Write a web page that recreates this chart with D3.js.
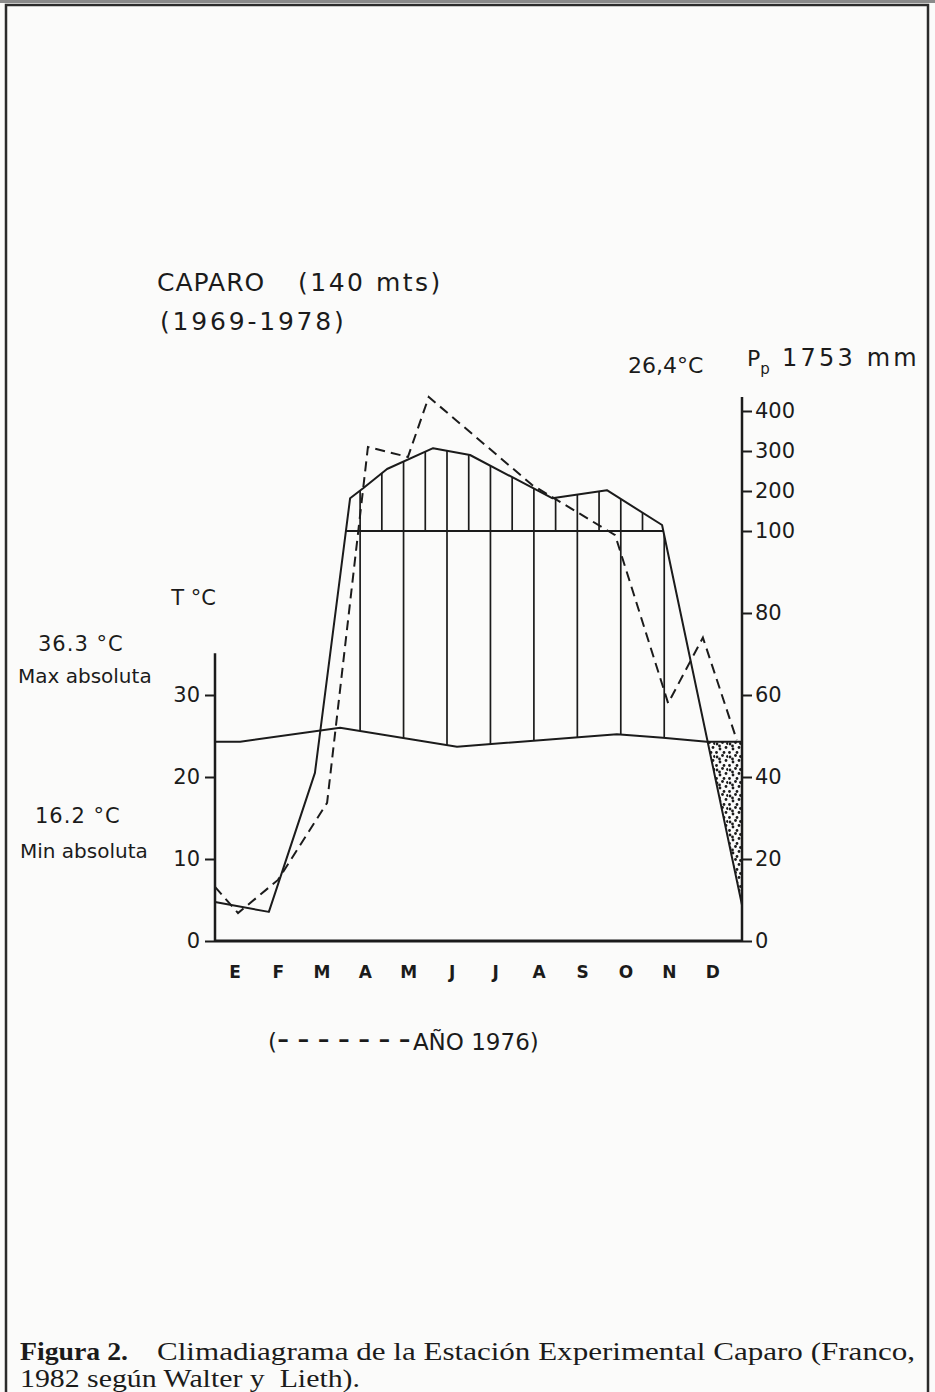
<!DOCTYPE html>
<html>
<head>
<meta charset="utf-8">
<script src="https://cdn.jsdelivr.net/npm/d3@7"></script>
<style>
  body { margin: 0; background: #fbfbfa; }
  svg text { fill: #1b1b1b; }
  .lbl { font-family: "DejaVu Sans", sans-serif; }
  .cap { font-family: "Liberation Serif", serif; }
</style>
</head>
<body>
<svg id="chart"></svg>
<script>
var svgWidth = 935;
var svgHeight = 1392;

// Month initials (Spanish)
var months = ["E", "F", "M", "A", "M", "J", "J", "A", "S", "O", "N", "D"];

// Mean temperature 1969-1978: position on the month axis (0 = E) and value in °C
var tempMonth = [-0.46, 0.12, 2.42, 5.11, 8.79, 9.85, 10.86, 11.67];
var tempMean = [24.3, 24.3, 26.0, 23.7, 25.2, 24.8, 24.3, 24.3];

// Mean precipitation 1969-1978 (mm)
var precMonth = [-0.46, 0.78, 1.84, 2.65, 2.95, 3.50, 4.56, 5.41, 7.30, 8.56, 9.83, 11.67];
var precMean = [9.5, 7.1, 41, 182, 207, 255, 307, 290, 182, 202, 115, 8.8];

// Precipitation for the year 1976 (mm), dashed
var prec76Month = [-0.46, 0.07, 0.99, 2.12, 3.06, 3.98, 4.46, 6.84, 8.75, 9.97, 10.77, 11.55];
var prec76 = [13.2, 6.8, 14.9, 33.7, 310, 285, 435, 215, 99, 58, 74, 49];

// Tick labels
var tempTicks = [0, 10, 20, 30];
var precTicks = [0, 20, 40, 60, 80, 100, 200, 300, 400];

var svg = d3.select("#chart")
  .attr("width", svgWidth)
  .attr("height", svgHeight);

// scan edge and frame of the page
svg.append("rect")
  .attr("x", 0).attr("y", 0)
  .attr("width", svgWidth).attr("height", 3)
  .attr("fill", "#8a8a8a");
svg.append("rect")
  .attr("x", 6).attr("y", 5)
  .attr("width", 922).attr("height", 1420)
  .attr("fill", "none")
  .attr("stroke", "#2b2b2b")
  .attr("stroke-width", 2.5);

// Scales
// ==============================
var x = d3.scaleLinear().domain([-0.46, 11.67]).range([215, 742]);
var yT = d3.scaleLinear().domain([0, 40]).range([941, 613]);
// Walter & Lieth: above 100 mm the scale is reduced to 1/10
var yP = d3.scaleLinear().domain([0, 100, 400]).range([941, 531, 411]);

var tempData = tempMonth.map((m, i) => ({m: m, v: tempMean[i]}));
var precData = precMonth.map((m, i) => ({m: m, v: precMean[i]}));
var prec76Data = prec76Month.map((m, i) => ({m: m, v: prec76[i]}));

var yTop = 0, yBottom = yT(0);

var defs = svg.append("defs");

// clip regions built from the curves
defs.append("clipPath").attr("id", "belowPrec").append("path")
  .attr("d", d3.area().x(d => x(d.m)).y0(yBottom).y1(d => yP(d.v))(precData));
defs.append("clipPath").attr("id", "abovePrec").append("path")
  .attr("d", d3.area().x(d => x(d.m)).y0(yTop).y1(d => yP(d.v))(precData));
defs.append("clipPath").attr("id", "aboveTemp").append("path")
  .attr("d", d3.area().x(d => x(d.m)).y0(yTop).y1(d => yT(d.v))(tempData));
defs.append("clipPath").attr("id", "belowTemp").append("path")
  .attr("d", d3.area().x(d => x(d.m)).y0(yBottom).y1(d => yT(d.v))(tempData));

// stipple for the dry period
var pat = defs.append("pattern")
  .attr("id", "dots")
  .attr("patternUnits", "userSpaceOnUse")
  .attr("width", 13).attr("height", 13);
[[2, 3], [7.5, 1.5], [11, 6.5], [5, 8], [1.5, 11.5], [9, 11.5], [12.5, 2.5], [4.5, 5]].forEach(function(p) {
  pat.append("circle").attr("cx", p[0]).attr("cy", p[1]).attr("r", 1.4).attr("fill", "#1b1b1b");
});

var chartGroup = svg.append("g");

// Humid period: vertical hatching
// ==============================
var hatch = chartGroup.append("g")
  .attr("clip-path", "url(#belowPrec)")
  .append("g")
  .attr("clip-path", "url(#aboveTemp)");

hatch.selectAll("line.full")
  .data(d3.range(2.88, 10.5, 1))
  .enter()
  .append("line")
  .attr("class", "full")
  .attr("x1", d => x(d)).attr("x2", d => x(d))
  .attr("y1", yP(450)).attr("y2", yBottom)
  .attr("stroke", "#1b1b1b")
  .attr("stroke-width", 1.7);

hatch.selectAll("line.half")
  .data(d3.range(3.38, 10.5, 1))
  .enter()
  .append("line")
  .attr("class", "half")
  .attr("x1", d => x(d)).attr("x2", d => x(d))
  .attr("y1", yP(450)).attr("y2", yP(100))
  .attr("stroke", "#1b1b1b")
  .attr("stroke-width", 1.7);

// Dry period (December): stipple between temperature and rainfall
chartGroup.append("g")
  .attr("clip-path", "url(#abovePrec)")
  .append("g")
  .attr("clip-path", "url(#belowTemp)")
  .append("rect")
  .attr("x", x(10)).attr("y", yT(30))
  .attr("width", x(11.67) - x(10))
  .attr("height", yBottom - yT(30))
  .attr("fill", "url(#dots)");

// 100 mm line where rainfall exceeds 100 mm
var pts = precData.map(d => [x(d.m), yP(d.v)]);
var y100 = yP(100);
var cross = [];
for (var i = 1; i < pts.length; i++) {
  var a = pts[i - 1], b = pts[i];
  if ((a[1] - y100) * (b[1] - y100) < 0) {
    cross.push(a[0] + (b[0] - a[0]) * (y100 - a[1]) / (b[1] - a[1]));
  }
}
chartGroup.append("line")
  .attr("x1", cross[0]).attr("x2", cross[cross.length - 1])
  .attr("y1", y100).attr("y2", y100)
  .attr("stroke", "#1b1b1b")
  .attr("stroke-width", 2.2);

// Curves
// ==============================
chartGroup.append("path")
  .datum(tempData)
  .attr("fill", "none")
  .attr("stroke", "#1b1b1b")
  .attr("stroke-width", 2)
  .attr("d", d3.line().x(d => x(d.m)).y(d => yT(d.v)));

chartGroup.append("path")
  .datum(precData)
  .attr("fill", "none")
  .attr("stroke", "#1b1b1b")
  .attr("stroke-width", 2)
  .attr("stroke-linejoin", "round")
  .attr("d", d3.line().x(d => x(d.m)).y(d => yP(d.v)));

chartGroup.append("path")
  .datum(prec76Data)
  .attr("fill", "none")
  .attr("stroke", "#1b1b1b")
  .attr("stroke-width", 2)
  .attr("stroke-dasharray", "10,6")
  .attr("d", d3.line().x(d => x(d.m)).y(d => yP(d.v)));

// Axes
// ==============================
var leftAxis = d3.axisLeft(yT).tickValues(tempTicks).tickSize(10).tickPadding(5);
var rightAxis = d3.axisRight(yP).tickValues(precTicks).tickSize(10).tickPadding(3);

var gl = chartGroup.append("g")
  .attr("transform", `translate(${x.range()[0]},0)`)
  .call(leftAxis);
var gr = chartGroup.append("g")
  .attr("transform", `translate(${x.range()[1]},0)`)
  .call(rightAxis);

[gl, gr].forEach(function(g) {
  g.select(".domain").remove();
  g.selectAll(".tick line").attr("stroke", "#1b1b1b").attr("stroke-width", 2);
  g.selectAll(".tick text")
    .attr("class", "lbl")
    .attr("font-size", 21)
    .attr("fill", "#1b1b1b");
});

// axis lines
chartGroup.append("line")
  .attr("x1", x.range()[0]).attr("x2", x.range()[0])
  .attr("y1", yT(35.1)).attr("y2", yBottom)
  .attr("stroke", "#1b1b1b").attr("stroke-width", 2.5);
chartGroup.append("line")
  .attr("x1", x.range()[1]).attr("x2", x.range()[1])
  .attr("y1", yP(435)).attr("y2", yBottom)
  .attr("stroke", "#1b1b1b").attr("stroke-width", 2.5);
chartGroup.append("line")
  .attr("x1", x.range()[0]).attr("x2", x.range()[1])
  .attr("y1", yBottom).attr("y2", yBottom)
  .attr("stroke", "#1b1b1b").attr("stroke-width", 3);

// month labels
chartGroup.append("g").selectAll("text")
  .data(months)
  .enter()
  .append("text")
  .attr("class", "lbl")
  .attr("x", (d, i) => x(i))
  .attr("y", 978)
  .attr("text-anchor", "middle")
  .attr("font-size", 17)
  .attr("font-weight", "bold")
  .text(d => d);

// Texts
// ==============================
function label(txt, px, py, size, anchor) {
  return svg.append("text")
    .attr("class", "lbl")
    .attr("x", px).attr("y", py)
    .attr("font-size", size)
    .attr("text-anchor", anchor || "start")
    .text(txt);
}

label("CAPARO", 157, 291, 25).attr("letter-spacing", 1);
label("(140 mts)", 298, 291, 25).attr("letter-spacing", 2.5);
label("(1969-1978)", 160, 330, 25).attr("letter-spacing", 2.8);
label("26,4°C", 628, 373, 22);
var pp = label("P", 747, 366, 22);
pp.append("tspan").attr("font-size", 15).attr("dy", 8).text("p");
label("1753 mm", 782, 366, 24).attr("letter-spacing", 3.2);

label("T °C", 216, 605, 21, "end");
label("36.3 °C", 38, 651, 21).attr("letter-spacing", 1);
label("Max absoluta", 18, 683, 20);
label("16.2 °C", 35, 823, 21).attr("letter-spacing", 1);
label("Min absoluta", 20, 858, 20);

var ano = label("(", 268, 1050, 23);
ano.append("tspan").attr("font-size", 34).attr("letter-spacing", 8).text("-------");
ano.append("tspan").attr("dx", -6).text("AÑO 1976)");

// caption
svg.append("text")
  .attr("class", "cap")
  .attr("x", 20).attr("y", 1360)
  .attr("font-size", 25)
  .attr("font-weight", "bold")
  .attr("textLength", 108)
  .attr("lengthAdjust", "spacingAndGlyphs")
  .text("Figura 2.");
svg.append("text")
  .attr("class", "cap")
  .attr("x", 157).attr("y", 1360)
  .attr("font-size", 25)
  .attr("textLength", 758)
  .attr("lengthAdjust", "spacingAndGlyphs")
  .text("Climadiagrama de la Estación Experimental Caparo (Franco,");
svg.append("text")
  .attr("class", "cap")
  .attr("x", 20).attr("y", 1387)
  .attr("font-size", 25)
  .attr("textLength", 340)
  .attr("lengthAdjust", "spacingAndGlyphs")
  .text("1982 según Walter y\u00a0\u00a0Lieth).");
</script>
</body>
</html>
